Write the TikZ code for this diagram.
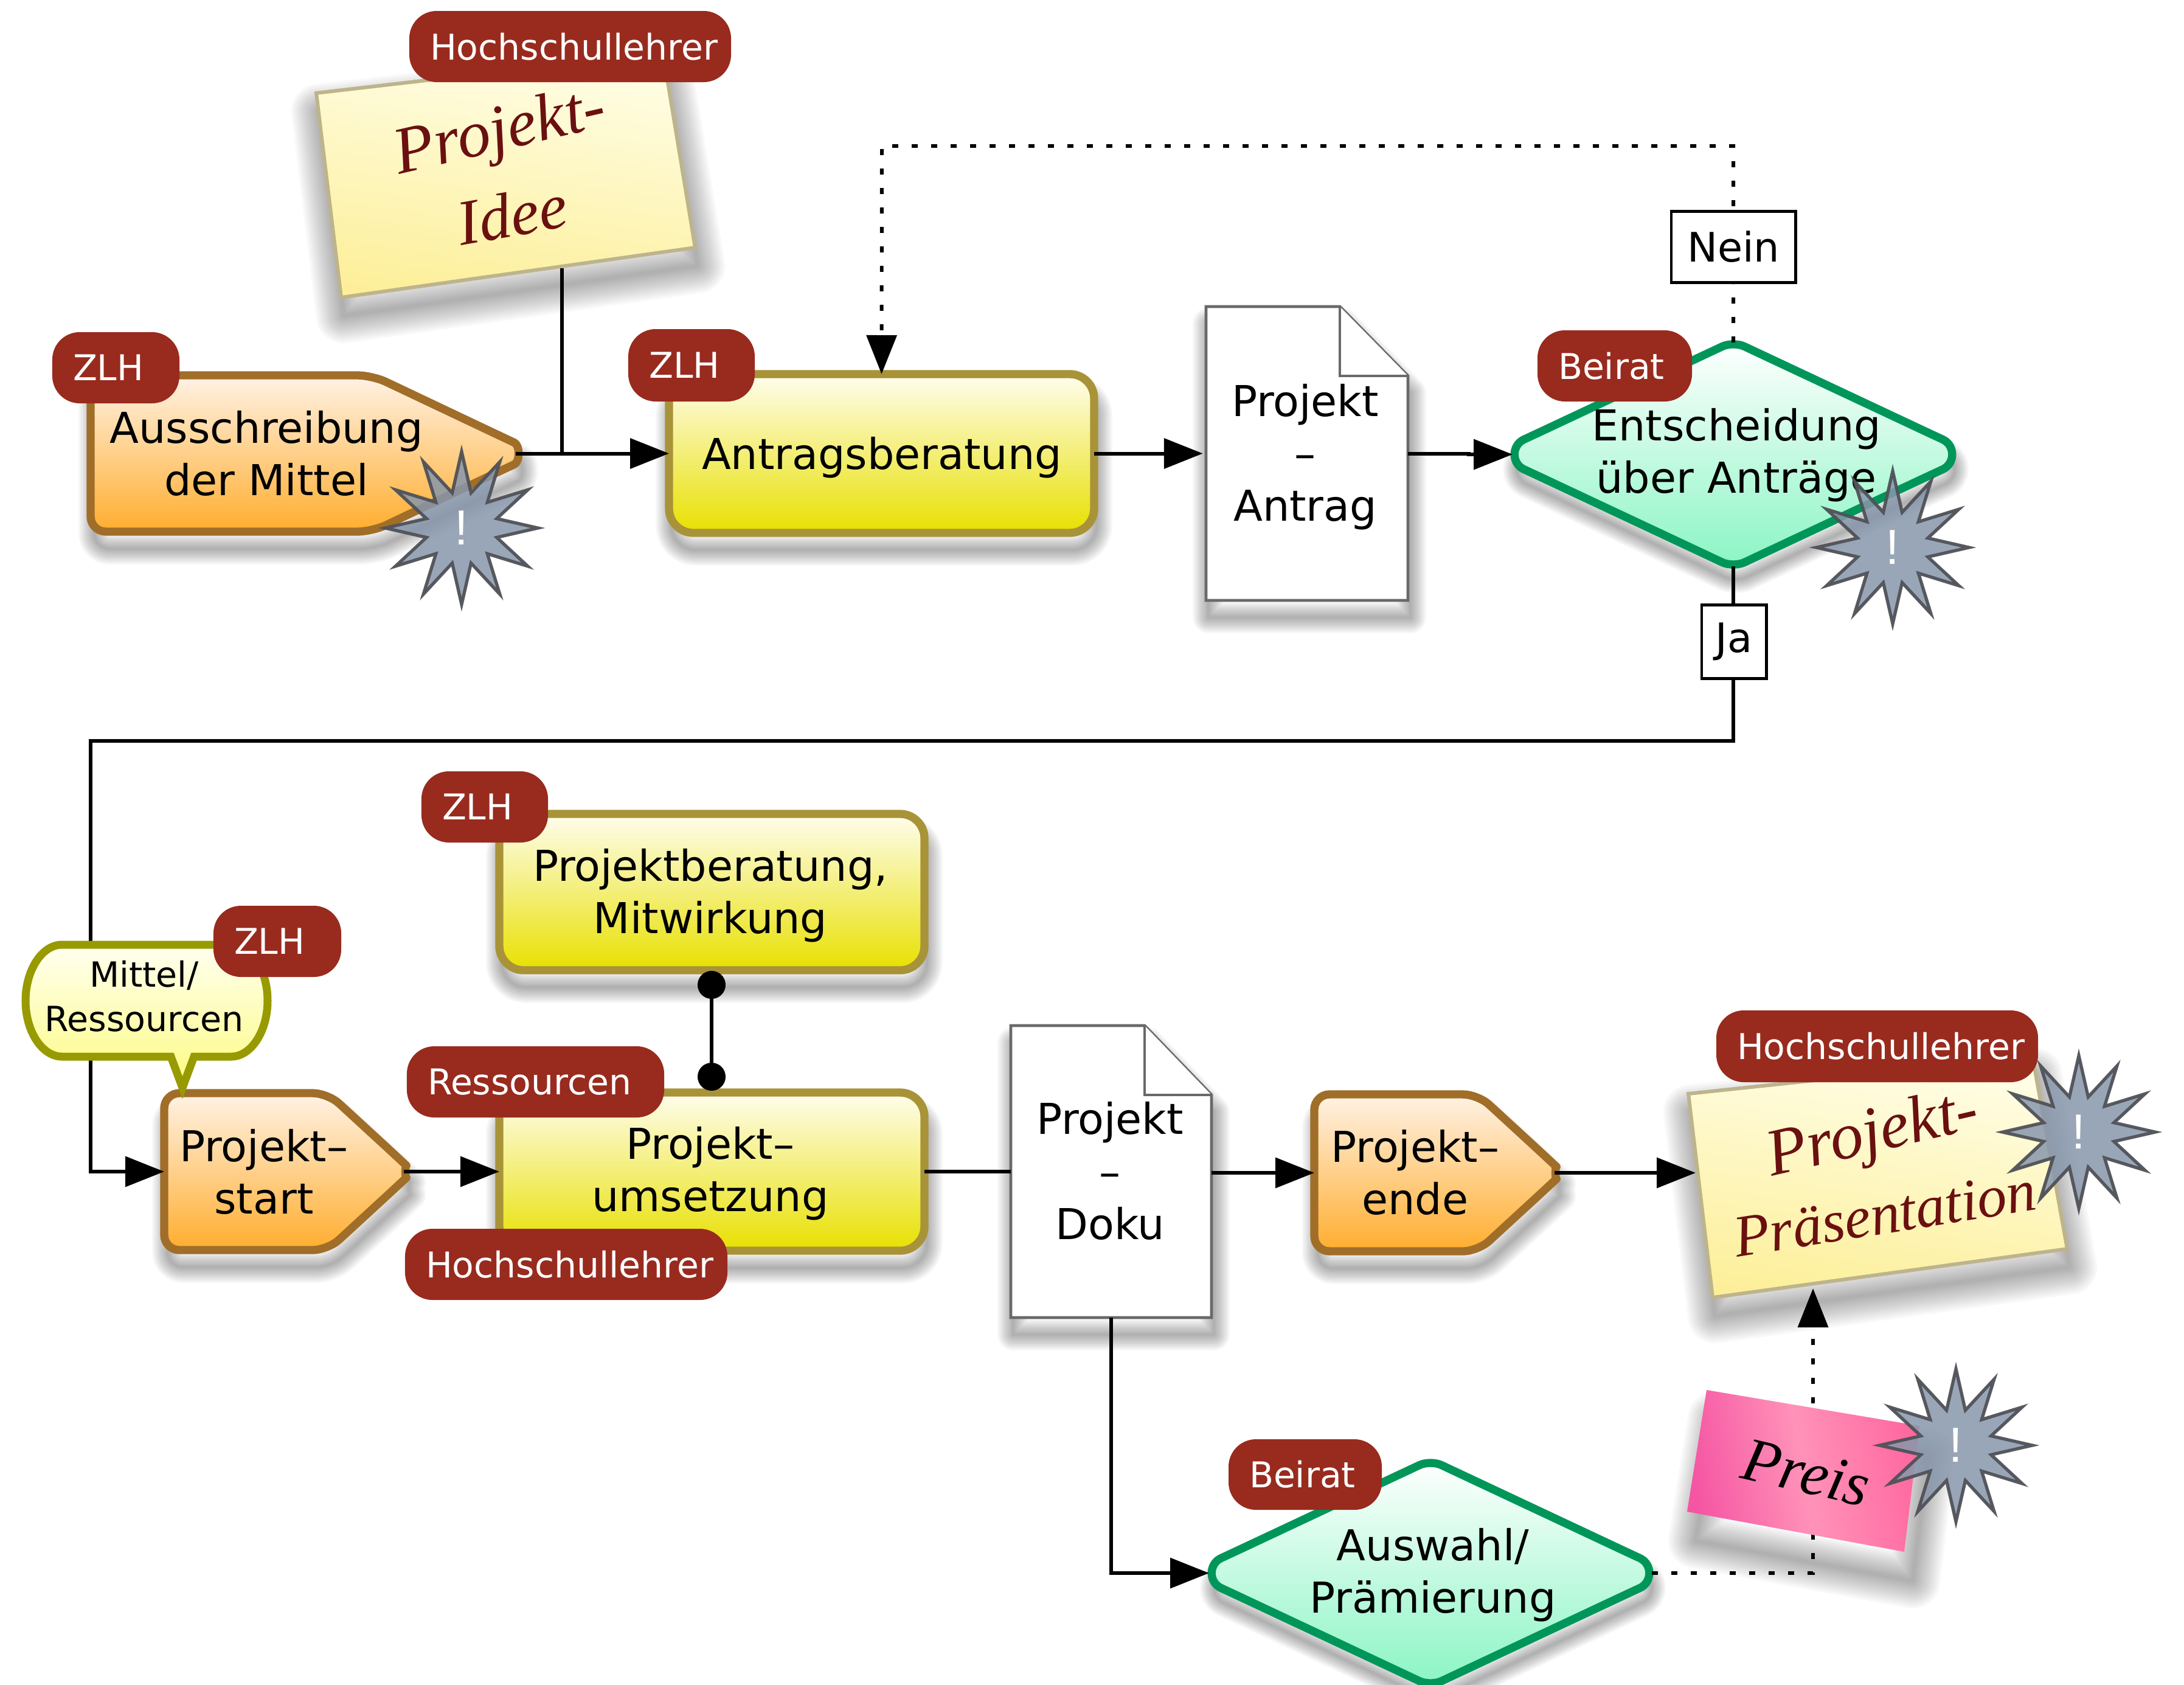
\documentclass[tikz,border=0pt]{standalone}
\usepackage{fontspec}
\setmainfont{DejaVu Sans}
\newfontfamily\handfont{Liberation Serif}
\newfontfamily\libfont{Liberation Sans}
\usetikzlibrary{arrows.meta,shapes.geometric,calc}
\definecolor{badgecol}{HTML}{982B1E}
\definecolor{orangeline}{HTML}{A06E28}
\definecolor{yelline}{HTML}{A89338}
\definecolor{greenline}{HTML}{00965A}
\definecolor{bubline}{HTML}{979A00}
\definecolor{handred}{HTML}{6B1010}
\tikzset{
  frame/.style={inner sep=0pt,outer sep=0pt},
  txt/.style={align=center,inner sep=0pt,outer sep=0pt,font=\fontsize{19.9pt}{24.5pt}\selectfont},
  orangeshape/.style={draw=orangeline,line width=3.8pt,line join=round,top color=white!90!orange,bottom color={rgb,255:red,255;green,173;blue,46}},
  yellowshape/.style={draw=yelline,line width=3.8pt,rounded corners=.4cm,top color={rgb,255:red,255;green,253;blue,238},bottom color={rgb,255:red,232;green,224;blue,0}},
  greenshape/.style={draw=greenline,line width=3.8pt,line join=round,top color=white,bottom color={rgb,255:red,138;green,245;blue,196}},
  noteshape/.style={draw={rgb,255:red,190;green,180;blue,140},line width=1.7pt,line join=miter,top color={rgb,255:red,255;green,254;blue,232},bottom color={rgb,255:red,253;green,239;blue,154},shading angle=-8},
  docshape/.style={draw={rgb,255:red,105;green,105;blue,105},line width=1.4pt,fill=white,line join=miter},
  badge/.style={fill=badgecol,rounded corners=.45cm,text=white,inner ysep=0pt,inner xsep=.34cm,outer sep=0pt,align=left,font=\fontsize{16.6pt}{20pt}\selectfont},
  labelbox/.style={draw=black,fill=white,line width=1.4pt,inner sep=0pt,outer sep=0pt,font=\fontsize{19pt}{22pt}\selectfont},
  conn/.style={draw=black,line width=1.7pt,line join=miter},
  arr/.style={-{Triangle[length=18.2pt,width=14pt]}},
  dots/.style={dash pattern=on 2.8pt off 6.3pt},
  alarm/.style={star,star points=12,star point ratio=2.1,minimum size=2.51cm,inner sep=0pt,outer sep=0pt,
    fill={rgb,255:red,136;green,151;blue,172},fill opacity=.85,draw={rgb,255:red,80;green,82;blue,88},draw opacity=.95,line width=1.5pt,
    text=white,text opacity=1,font=\libfont\fontsize{23pt}{23pt}\selectfont},
  hand/.style={inner sep=0pt,outer sep=0pt,text=handred,font=\handfont\itshape\fontsize{31pt}{31pt}\selectfont},
  dotnode/.style={circle,fill=black,minimum size=.46cm,inner sep=0pt,outer sep=0pt}
}
% named invisible frame: name x1 y1 x2 y2
\newcommand\fnode[5]{\node[frame,minimum width={(#4-#2)*0.01cm},minimum height={(#5-#3)*0.01cm}] (#1) at ({(#2+#4)/2},{(#3+#5)/2}) {};}
\newcommand\bdg[6]{\node[badge,text width={(#4-#2-68)*0.01cm},minimum height={(#5-#3)*0.01cm}] (#1) at ({(#2+#4)/2},{(#3+#5)/2}) {#6};}
\newcommand\softshadow[4]{\foreach \w in {1,...,12}{\path[draw=black,opacity=.028,line join=round,shift={(#1,#2)},line width={\w*#3/12*0.01cm}] #4;}}
% paths
\def\pPentA{[rounded corners=.25cm] (149,617) -- (612,617) -- (823,717) .. controls (855,732) and (855,759) .. (823,774) -- (612,874) -- (149,874) -- cycle}
\def\pPentB{[rounded corners=.25cm] (270,1797) -- (539,1797) -- (650,1899) .. controls (666,1914) and (666,1938) .. (650,1953) -- (539,2055) -- (270,2055) -- cycle}
\def\pPentC{[rounded corners=.25cm] (2161,1799) -- (2430,1799) -- (2541,1901) .. controls (2557,1916) and (2557,1940) .. (2541,1955) -- (2430,2057) -- (2161,2057) -- cycle}
\newcommand\dia[2]{[rounded corners=.2cm] (#1,{#2-186}) -- ({#1+326},{#2-33}) .. controls ({#1+365},{#2-15}) and ({#1+365},{#2+15}) .. ({#1+326},{#2+33}) -- (#1,{#2+186}) -- ({#1-326},{#2+33}) .. controls ({#1-365},{#2+15}) and ({#1-365},{#2-15}) .. ({#1-326},{#2-33}) -- cycle}
\def\pBoxA{[rounded corners=.4cm] (1100,615) rectangle (1799,876)}
\def\pBoxB{[rounded corners=.4cm] (821,1338) rectangle (1520,1595)}
\def\pBoxC{[rounded corners=.4cm] (821,1796) rectangle (1520,2056)}
\def\pNoteA{(520,153) -- (1090,87) -- (1143,407) -- (561,489) -- cycle}
\def\pNoteB{(2776,1798) -- (3342,1738) -- (3399,2053) -- (2816,2133) -- cycle}
\def\pPreis{(2806,2285) -- (3156,2344) -- (3131,2551) -- (2774,2485) -- cycle}
\def\pDocA{(1983,504) -- (2203,504) -- (2315,618) -- (2315,987) -- (1983,987) -- cycle}
\def\pDocB{(1662,1686) -- (1882,1686) -- (1992,1800) -- (1992,2166) -- (1662,2166) -- cycle}
\def\pBubble{(102,1553) -- (380,1553) .. controls (413,1553) and (440,1595) .. (440,1645) .. controls (440,1695) and (413,1737) .. (380,1737) -- (319,1737) -- (300,1788) -- (281,1737) -- (102,1737) .. controls (69,1737) and (42,1695) .. (42,1645) .. controls (42,1595) and (69,1553) .. cycle}
\begin{document}
\begin{tikzpicture}[x=0.01cm,y=-0.01cm]
\useasboundingbox (0,0) rectangle (3591,2769);
\fill[white] (0,0) rectangle (3591,2769);
% frames
\fnode{idea}{530}{120}{1130}{441}
\fnode{ausschr}{149}{617}{848}{874}
\fnode{antrag}{1100}{615}{1799}{876}
\fnode{docantrag}{1983}{504}{2315}{987}
\fnode{entsch}{2487}{563}{3213}{931}
\fnode{start}{270}{1797}{664}{2055}
\fnode{beratung}{821}{1338}{1520}{1595}
\fnode{umsetz}{821}{1796}{1520}{2056}
\fnode{docdoku}{1662}{1686}{1992}{2166}
\fnode{ende}{2161}{1799}{2556}{2057}
\fnode{praes}{2788}{1760}{3380}{2118}
\fnode{auswahl}{1988}{2400}{2716}{2772}
\coordinate (ideaout) at (924,441);
\coordinate (junction) at (924,745.5);
\coordinate (nein-top) at (1450,240);
\coordinate (ja-a) at (2850,1218);
\coordinate (ja-b) at (149,1218);
\coordinate (ja-c) at (149,1926);
\coordinate (ende-in) at (2788,1928);
\coordinate (praes-bot) at (2981,2118);
\coordinate (preis-corner) at (2981,2586);
% shadows
\softshadow{4}{30}{90}{\pNoteA}
\softshadow{4}{30}{90}{\pNoteB}
\softshadow{14}{48}{90}{\pPreis}
\softshadow{6}{28}{52}{\pPentA}
\softshadow{6}{28}{52}{\pPentB}
\softshadow{6}{28}{52}{\pPentC}
\softshadow{4}{28}{52}{\pBoxA}
\softshadow{4}{28}{52}{\pBoxB}
\softshadow{4}{28}{52}{\pBoxC}
\softshadow{4}{28}{52}{\pDocA}
\softshadow{4}{28}{52}{\pDocB}
\softshadow{4}{24}{46}{\dia{2850}{747}}
\softshadow{4}{24}{46}{\dia{2352}{2586}}
% shapes
\path[noteshape] \pNoteA;
\path[noteshape] \pNoteB;
\path[orangeshape] \pPentA;
\path[orangeshape] \pPentB;
\path[orangeshape] \pPentC;
\path[yellowshape] (1100,615) rectangle (1799,876);
\path[yellowshape] (821,1338) rectangle (1520,1595);
\path[yellowshape] (821,1796) rectangle (1520,2056);
\path[docshape] \pDocA;
\draw[docshape] (2203,504) -- (2203,618) -- (2315,618);
\path[docshape] \pDocB;
\draw[docshape] (1882,1686) -- (1882,1800) -- (1992,1800);
\path[greenshape] \dia{2850}{747};
\path[greenshape] \dia{2352}{2586};
% connectors
\draw[conn] (ideaout) -- (junction);
\draw[conn,arr] (ausschr.east) -- (antrag.west);
\draw[conn,arr,shorten >=1.5pt] (antrag.east) -- (docantrag.west);
\draw[conn,arr] (docantrag.east) -- ++(100,0) -- ++(0,1.5) -- (entsch.west);
\draw[conn,dots,arr] (entsch.north) |- (nein-top) -- (antrag.north);
\draw[conn,arr] (entsch.south) -- (ja-a) -- (ja-b) -- (ja-c) -- (start.west);
\draw[conn,arr] (start.east) -- (umsetz.west);
\draw[conn] (umsetz.east) -- (docdoku.west);
\draw[conn,arr] (docdoku.east |- ende.west) -- (ende.west);
\draw[conn,arr] (ende.east) -- (ende-in);
\draw[conn,arr] (docdoku.south -| 1827,0) -- (1827,2586) -- (auswahl.west);
\draw[conn,dots,arr] (auswahl.east) -- (preis-corner) -- (praes-bot);
\node[dotnode] (dota) at (1170,1619) {};
\node[dotnode] (dotb) at (1170,1770) {};
\draw[conn] (dota) -- (dotb);
% bubble and pink note
\path[draw=bubline,line width=3.7pt,line join=miter,top color={rgb,255:red,255;green,255;blue,240},bottom color={rgb,255:red,252;green,251;blue,128}] \pBubble;
\path[left color={rgb,255:red,245;green,85;blue,163},right color={rgb,255:red,255;green,105;blue,160},middle color={rgb,255:red,255;green,146;blue,184},shading angle=100] \pPreis;
% labels
\node[labelbox,minimum width=2.04cm,minimum height=1.17cm] (nein) at (2850,406) {Nein};
\node[labelbox,minimum width=1.06cm,minimum height=1.21cm] (ja) at (2851,1055) {Ja};
% badges
\bdg{bHL1}{673}{18}{1202}{135}{Hochschullehrer}
\bdg{bZ1}{86}{546}{295}{663}{ZLH}
\bdg{bZ2}{1033}{541}{1241}{660}{ZLH}
\bdg{bB1}{2528}{543}{2782}{660}{Beirat}
\bdg{bZ3}{693}{1268}{901}{1385}{ZLH}
\bdg{bZ4}{351}{1489}{561}{1606}{ZLH}
\bdg{bR}{669}{1720}{1092}{1837}{Ressourcen}
\bdg{bHL2}{666}{2020}{1196}{2137}{Hochschullehrer}
\bdg{bHL3}{2822}{1661}{3351}{1779}{Hochschullehrer}
\bdg{bB2}{2020}{2366}{2272}{2482}{Beirat}
% texts
\node[txt] (tA) at (438,745) {Ausschreibung\\der Mittel};
\node[txt] (tB) at (1450,752) {Antragsberatung};
\node[txt] (tC) at (2146,751) {Projekt\\–\\Antrag};
\node[txt] (tD) at (2855,748) {Entscheidung\\über Anträge};
\node[txt] (tE) at (434,1926) {Projekt–\\start};
\node[txt] (tF) at (1168,1472) {Projektberatung,\\Mitwirkung};
\node[txt] (tG) at (1168,1929) {Projekt–\\umsetzung};
\node[txt] (tH) at (1825,1925) {Projekt\\–\\Doku};
\node[txt] (tI) at (2327,1927) {Projekt–\\ende};
\node[txt] (tJ) at (2356,2589) {Auswahl/\\Prämierung};
\node[txt,font=\fontsize{16.2pt}{20.7pt}\selectfont] (tK) at (237,1638) {Mittel/\\Ressourcen};
\node[hand,rotate=13] (hA) at (823,221) {Projekt-};
\node[hand,rotate=10,font=\handfont\itshape\fontsize{30pt}{30pt}\selectfont] (hB) at (842,352) {Idee};
\node[hand,rotate=13] (hC) at (3080,1868) {Projekt-};
\node[hand,rotate=9,font=\handfont\itshape\fontsize{27.6pt}{30pt}\selectfont] (hD) at (3099,1996) {Präsentation};
\node[hand,rotate=-13,text=black,font=\handfont\itshape\fontsize{29pt}{30pt}\selectfont] (hE) at (2970,2421) {Preis};
% stars
\node[alarm] (sA) at (759,868) {!};
\node[alarm] (sB) at (3112,900) {!};
\node[alarm] (sC) at (3418,1861) {!};
\node[alarm] (sD) at (3216,2376) {!};
\end{tikzpicture}
\end{document}
